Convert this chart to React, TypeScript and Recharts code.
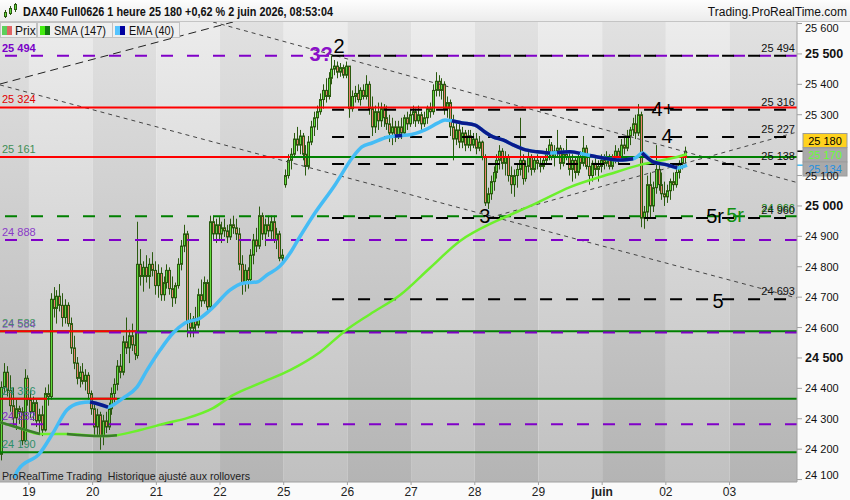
import React from 'react'
import { ComposedChart, Bar, Line, XAxis, YAxis, ReferenceLine, ReferenceArea, ReferenceDot } from 'recharts'

// DAX40 hourly bars, one [open, high, low, close] row per hour, grouped by session
const SESSION_18 = [
  [24183, 24423, 24163, 24403], [24403, 24483, 24383, 24453], [24453, 24473, 24373, 24393], [24393, 24443, 24323, 24343],
  [24343, 24403, 24283, 24303], [24303, 24363, 24263, 24333], [24333, 24343, 24283, 24323], [24323, 24338, 24213, 24228],
  [24228, 24463, 24223, 24433], [24433, 24443, 24343, 24363],
]
const SESSION_19 = [
  [24363, 24393, 24303, 24323], [24323, 24373, 24293, 24353], [24353, 24363, 24273, 24293], [24293, 24333, 24253, 24313],
  [24313, 24343, 24243, 24263], [24263, 24403, 24258, 24383], [24383, 24413, 24343, 24373], [24373, 24713, 24363, 24693],
  [24693, 24733, 24633, 24663], [24663, 24723, 24613, 24703], [24703, 24743, 24653, 24673], [24673, 24713, 24603, 24633],
  [24633, 24693, 24613, 24673], [24673, 24683, 24603, 24613], [24613, 24633, 24513, 24533], [24533, 24573, 24463, 24483],
  [24483, 24503, 24413, 24433], [24433, 24473, 24403, 24453], [24453, 24483, 24413, 24423], [24423, 24463, 24393, 24443],
  [24443, 24453, 24363, 24383], [24383, 24393, 24313, 24333],
]
const SESSION_20 = [
  [24333, 24353, 24243, 24273], [24273, 24333, 24243, 24313], [24313, 24323, 24198, 24243], [24243, 24313, 24213, 24293],
  [24293, 24323, 24253, 24273], [24273, 24353, 24263, 24333], [24333, 24403, 24313, 24383], [24383, 24433, 24353, 24413],
  [24413, 24493, 24393, 24473], [24473, 24513, 24433, 24453], [24453, 24573, 24443, 24553], [24553, 24633, 24513, 24533],
  [24533, 24593, 24483, 24573], [24573, 24613, 24523, 24543], [24543, 24583, 24493, 24513], [24508, 24948, 24498, 24808],
  [24808, 24858, 24738, 24768], [24768, 24818, 24718, 24798], [24798, 24838, 24748, 24768], [24768, 24828, 24728, 24808],
  [24808, 24848, 24768, 24788], [24788, 24818, 24708, 24738],
]
const SESSION_21 = [
  [24738, 24808, 24698, 24778], [24778, 24798, 24688, 24708], [24708, 24768, 24688, 24748], [24748, 24808, 24728, 24788],
  [24788, 24798, 24708, 24728], [24728, 24768, 24668, 24698], [24698, 24748, 24678, 24738], [24738, 24828, 24728, 24808],
  [24808, 24888, 24788, 24868], [24868, 24938, 24848, 24908], [24908, 24918, 24568, 24618], [24618, 24648, 24568, 24598],
  [24598, 24638, 24568, 24628], [24628, 24668, 24588, 24608], [24608, 24728, 24598, 24708], [24708, 24758, 24668, 24688],
  [24688, 24768, 24678, 24748], [24748, 24758, 24648, 24668], [24668, 24968, 24658, 24948], [24948, 24968, 24888, 24908],
  [24908, 24958, 24878, 24938], [24938, 24963, 24888, 24908],
]
const SESSION_22 = [
  [24908, 24948, 24878, 24928], [24928, 24958, 24898, 24918], [24918, 24938, 24878, 24898], [24898, 24958, 24888, 24938],
  [24938, 24968, 24908, 24928], [24928, 24958, 24888, 24908], [24908, 24928, 24788, 24808], [24808, 24838, 24708, 24748],
  [24748, 24808, 24718, 24788], [24788, 24798, 24728, 24758], [24758, 24858, 24748, 24838], [24838, 24908, 24808, 24888],
  [24888, 24928, 24848, 24868], [24868, 24998, 24858, 24968], [24968, 24978, 24888, 24908], [24908, 24958, 24868, 24938],
  [24938, 24968, 24898, 24918], [24918, 24968, 24888, 24948], [24948, 24968, 24878, 24888], [24888, 24928, 24858, 24908],
  [24908, 24918, 24818, 24828], [24828, 24858, 24808, 24838],
]
const SESSION_25 = [
  [25070, 25120, 25060, 25100], [25100, 25170, 25090, 25150], [25150, 25190, 25120, 25170], [25170, 25240, 25160, 25220],
  [25220, 25260, 25180, 25200], [25200, 25250, 25170, 25230], [25230, 25240, 25150, 25170], [25170, 25200, 25100, 25130],
  [25130, 25230, 25120, 25210], [25210, 25280, 25200, 25260], [25260, 25310, 25230, 25290], [25290, 25330, 25250, 25310],
  [25310, 25370, 25300, 25350], [25350, 25400, 25320, 25380], [25380, 25420, 25340, 25360], [25360, 25440, 25350, 25420],
  [25420, 25495, 25400, 25450], [25450, 25480, 25430, 25460], [25460, 25475, 25420, 25440], [25440, 25470, 25425, 25455],
  [25455, 25465, 25420, 25430], [25430, 25475, 25420, 25460],
]
const SESSION_26 = [
  [25460, 25460, 25290, 25320], [25320, 25380, 25310, 25360], [25360, 25395, 25340, 25370], [25370, 25400, 25340, 25350],
  [25350, 25390, 25330, 25380], [25380, 25400, 25350, 25360], [25360, 25430, 25350, 25400], [25400, 25410, 25300, 25320],
  [25320, 25360, 25230, 25260], [25260, 25330, 25240, 25310], [25310, 25340, 25250, 25280], [25280, 25340, 25260, 25320],
  [25320, 25335, 25260, 25290], [25290, 25330, 25250, 25270], [25270, 25300, 25210, 25240], [25240, 25290, 25200, 25260],
  [25260, 25280, 25210, 25230], [25230, 25280, 25220, 25260], [25260, 25290, 25220, 25240], [25240, 25300, 25230, 25290],
  [25290, 25310, 25250, 25270], [25270, 25320, 25260, 25300],
]
const SESSION_27 = [
  [25300, 25330, 25270, 25310], [25310, 25320, 25260, 25280], [25280, 25330, 25270, 25300], [25300, 25310, 25250, 25270],
  [25270, 25310, 25260, 25290], [25290, 25330, 25270, 25320], [25320, 25340, 25290, 25310], [25310, 25400, 25300, 25380],
  [25380, 25440, 25360, 25410], [25410, 25430, 25360, 25380], [25380, 25420, 25350, 25400], [25400, 25410, 25300, 25320],
  [25320, 25360, 25290, 25340], [25340, 25350, 25230, 25260], [25260, 25300, 25150, 25220], [25220, 25280, 25200, 25250],
  [25250, 25270, 25190, 25210], [25210, 25260, 25190, 25240], [25240, 25250, 25180, 25200], [25200, 25250, 25190, 25230],
  [25230, 25250, 25180, 25200], [25200, 25240, 25190, 25220],
]
const SESSION_28 = [
  [25220, 25240, 25170, 25190], [25190, 25230, 25180, 25210], [25210, 25215, 25150, 25160], [25160, 25170, 25000, 25010],
  [25010, 25060, 24990, 25040], [25040, 25100, 25020, 25080], [25080, 25130, 25050, 25110], [25110, 25170, 25090, 25150],
  [25150, 25200, 25120, 25180], [25180, 25190, 25120, 25140], [25140, 25180, 25100, 25160], [25160, 25170, 25080, 25100],
  [25100, 25130, 25040, 25070], [25070, 25120, 25030, 25100], [25100, 25140, 25060, 25120], [25120, 25290, 25100, 25150],
  [25150, 25170, 25070, 25090], [25090, 25150, 25080, 25130], [25130, 25180, 25110, 25160], [25160, 25170, 25100, 25120],
  [25120, 25160, 25110, 25150], [25150, 25170, 25120, 25140],
]
const SESSION_29 = [
  [25140, 25160, 25110, 25130], [25130, 25160, 25120, 25150], [25150, 25190, 25140, 25170], [25170, 25220, 25150, 25200],
  [25200, 25210, 25150, 25160], [25160, 25200, 25130, 25180], [25180, 25250, 25160, 25190], [25190, 25200, 25120, 25140],
  [25140, 25190, 25130, 25170], [25170, 25220, 25150, 25160], [25160, 25180, 25100, 25120], [25120, 25170, 25080, 25150],
  [25150, 25160, 25090, 25110], [25110, 25170, 25100, 25160], [25160, 25180, 25120, 25140], [25140, 25230, 25130, 25190],
  [25190, 25200, 25120, 25130], [25130, 25160, 25070, 25100], [25100, 25150, 25080, 25140], [25140, 25160, 25100, 25120],
  [25120, 25150, 25080, 25130], [25130, 25170, 25110, 25150],
]
const SESSION_01 = [
  [25150, 25170, 25120, 25140], [25140, 25180, 25130, 25160], [25160, 25170, 25120, 25130], [25130, 25170, 25120, 25160],
  [25160, 25200, 25140, 25180], [25180, 25190, 25140, 25160], [25160, 25220, 25150, 25200], [25200, 25230, 25170, 25190],
  [25190, 25250, 25180, 25230], [25230, 25260, 25200, 25250], [25250, 25290, 25230, 25270], [25270, 25300, 25220, 25240],
  [25240, 25335, 25230, 25300], [25300, 25310, 24930, 24960], [24960, 25000, 24925, 24980], [24980, 25100, 24950, 25070],
  [25070, 25110, 24960, 25000], [25000, 25080, 24980, 25060], [25060, 25200, 25040, 25120], [25120, 25140, 25050, 25070],
  [25070, 25110, 25020, 25040], [25040, 25080, 25000, 25030],
]
const SESSION_02 = [
  [25030, 25070, 25010, 25050], [25050, 25090, 25020, 25080], [25080, 25110, 25050, 25070], [25070, 25130, 25060, 25110],
  [25110, 25150, 25090, 25140], [25140, 25170, 25120, 25160], [25160, 25195, 25140, 25180],
]
const SESSIONS = [SESSION_18, SESSION_19, SESSION_20, SESSION_21, SESSION_22, SESSION_25, SESSION_26, SESSION_27, SESSION_28, SESSION_29, SESSION_01, SESSION_02]

// x axis runs in hourly slots; each session starts on a day tick
const DAY_TICKS = [10, 32, 54, 76, 98, 120, 142, 164, 186, 208, 230, 252]
const DAY_LABELS = ['19', '20', '21', '22', '25', '26', '27', '28', '29', 'juin', '02', '03']
const BAND_EDGES = [0, 10, 32, 54, 76, 98, 120, 142, 164, 186, 208, 230, 252, 275.3]
const X_MAX = 275.3
const Y_MIN = 24092
const Y_MAX = 25605
const PRICE_TICKS = [25600, 25500, 25400, 25300, 25100, 25000, 24900, 24800, 24700, 24600, 24500, 24400, 24300, 24200, 24100]

// indicator readings [slot, price]
const SMA_147 = [
  [0, 24289], [6.9, 24269], [13.8, 24250], [23.1, 24250], [34.5, 24243], [40.4, 24246], [48.4, 24263], [57.7, 24286],
  [64.6, 24302], [73.6, 24335], [80.5, 24378], [89.8, 24417], [100.2, 24460], [110.5, 24519], [119.2, 24589], [127.8, 24644],
  [138.2, 24707], [148.5, 24796], [158.9, 24885], [169.3, 24941], [173.7, 24960], [185.5, 25010], [196.9, 25062],
  [210.7, 25105], [221.1, 25135], [233.9, 25161], [237.3, 25170],
]
const SMA_FALLING = [[0, 13.8], [23.1, 40.4]]
const EMA_40 = [
  [4.8, 24105], [6.2, 24131], [13.8, 24187], [18.3, 24253], [23.1, 24329], [27.6, 24352], [31.1, 24355], [34.5, 24347],
  [37.3, 24338], [39.0, 24345], [42.5, 24368], [47.3, 24404], [50.8, 24460], [55.3, 24526], [59.8, 24582], [63.9, 24615],
  [69.1, 24631], [73.6, 24667], [79.4, 24723], [83.9, 24746], [88.8, 24750], [92.2, 24773], [96.7, 24802], [100.2, 24845],
  [102.9, 24888], [108.1, 24967], [115.7, 25069], [121.9, 25161], [125.0, 25194], [128.5, 25207], [134.0, 25227],
  [136.4, 25230], [138.9, 25232], [140.9, 25233], [146.8, 25250], [151.3, 25273], [153.7, 25283], [156.1, 25280],
  [159.6, 25273], [164.1, 25266], [167.5, 25243], [170.3, 25227], [173.7, 25217], [177.2, 25201], [180.7, 25187],
  [185.5, 25178], [190.0, 25174], [192.4, 25175], [196.9, 25178], [200.3, 25173], [202.8, 25168], [203.8, 25166],
  [208.3, 25158], [214.2, 25151], [218.7, 25155], [220.0, 25161], [221.8, 25174], [225.6, 25145], [230.4, 25135],
  [233.9, 25125], [237.3, 25134],
]
const EMA_FALLING = [[31.1, 37.3], [136.4, 138.9], [156.1, 190.0], [192.4, 200.3], [203.8, 218.7], [221.8, 233.9]]

// support / resistance levels
const PURPLE_LEVELS = [25494, 24888, 24584, 24282]
const GREEN_LEVELS = [25161, 24588, 24366, 24190]
const RED_LEVEL = 25324
const GREEN_DASH_LEVEL = 24966
const BLACK_DASH_LEVELS = [25494, 25316, 25227, 25138, 24960, 24693]
const LAST_PRICE = 25180
const LAST_SMA = 25170
const LAST_EMA = 25134

const FONT = '"Liberation Sans", Arial, sans-serif'
const OUTLINE = '#2b5a10'
const UP_FILL = '#62dc3e'
const DOWN_FILL = '#ec8270'

const bars = SESSIONS.flat().map(([o, h, l, c], i) => ({ x: i + 0.5, o, h, l, c, range: [l, h] }))
const toPts = (rows: number[][]) => rows.map(([x, v]) => ({ x, v }))
const pick = (rows: number[][], a: number, b: number) => toPts(rows.filter(([x]) => x >= a && x <= b))
const fmt = (v: number) => String(v).replace(/(\d{2})(\d{3})$/, '$1 $2')

function Candle(props: any) {
  const { x, y, width, height, payload } = props
  if (!payload) return null
  const { o, h, l, c } = payload
  const top = Math.min(y, y + height)
  const span = Math.abs(height)
  const k = h > l ? span / (h - l) : 0
  const bodyTop = top + (h - Math.max(o, c)) * k
  const bodyBot = top + (h - Math.min(o, c)) * k
  const px = Math.round(x + width / 2)
  return (
    <g>
      <line x1={px + 0.5} x2={px + 0.5} y1={top} y2={top + span} stroke={OUTLINE} />
      <rect x={px - 0.5} y={bodyTop} width={2} height={Math.max(bodyBot - bodyTop, 1)} fill={c >= o ? UP_FILL : DOWN_FILL} stroke={OUTLINE} />
    </g>
  )
}

const DayTick = (p: any) => {
  const idx = DAY_TICKS.indexOf(p.payload.value)
  const label = DAY_LABELS[idx] ?? ''
  return (
    <text x={p.x} y={p.y + 9} textAnchor="middle" fontSize={12} fontFamily={FONT} fill="#222" fontWeight={label === 'juin' ? 'bold' : 'normal'}>
      {label}
    </text>
  )
}

const PriceTick = (p: any) => {
  const v = p.payload.value
  const bold = v % 500 === 0 && v % 1000 !== 100
  const dy = v === 25600 ? 8 : v === 24100 ? -0.5 : 4
  return (
    <text x={p.x + 1} y={p.y + dy} fontSize={bold ? 12.5 : 11} fontWeight={bold ? 'bold' : 'normal'} fontFamily={FONT} fill="#111">
      {fmt(v)}
    </text>
  )
}

const sideLabel = (text: string, color: string, side: 'left' | 'right', bold = false) => (p: any) => {
  const vb = p.viewBox || {}
  const x = side === 'left' ? 2 : (vb.x ?? 0) + (vb.width ?? 0) - 2
  return (
    <text x={x} y={(vb.y ?? 0) - 4} textAnchor={side === 'left' ? 'start' : 'end'} fontSize={11} fontFamily={FONT} fill={color} fontWeight={bold ? 'bold' : 'normal'}>
      {text}
    </text>
  )
}

const priceBox = (text: string, bg: string, fg: string, dy: number, mark?: string) => (p: any) => {
  const vb = p.viewBox || {}
  const x = (vb.x ?? 0) + (vb.width ?? 0)
  const ly = vb.y ?? 0
  const cy = ly + dy
  return (
    <g>
      {mark && <line x1={x} x2={x + 6} y1={ly} y2={ly} stroke={mark} strokeWidth={1.5} />}
      <rect x={x + 6} y={cy - 7} width={44} height={14} fill={bg} stroke="#9c9c9c" />
      <text x={x + 28} y={cy + 4} textAnchor="middle" fontSize={11} fontFamily={FONT} fill={fg}>{text}</text>
    </g>
  )
}

const markText = (text: string, color: string, size = 20, bold = false) => (p: any) => (
  <text x={p.cx} y={p.cy} textAnchor="middle" fontSize={size} fontFamily={FONT} fill={color} fontWeight={bold ? 'bold' : 'normal'}>
    {text}
  </text>
)

const seg = (a: number, b: number, v: number) => [{ x: a, y: v }, { x: b, y: v }] as any

export default function App() {
  const dash = '12 14'
  return (
    <div style={{ position: 'absolute', left: 0, top: 0, width: 850, height: 500, background: '#fafafa', fontFamily: FONT }}>
      <ComposedChart width={850} height={500} data={bars} margin={{ top: 22, right: 0, bottom: 0, left: 0 }}>
        <defs>
          <linearGradient id="bandLight" x1="0" y1="0" x2="0" y2="1">
            <stop offset="0" stopColor="#ececec" />
            <stop offset="1" stopColor="#c0c0c0" />
          </linearGradient>
          <linearGradient id="bandDark" x1="0" y1="0" x2="0" y2="1">
            <stop offset="0" stopColor="#e1e1e1" />
            <stop offset="1" stopColor="#b4b4b4" />
          </linearGradient>
        </defs>
        <XAxis type="number" dataKey="x" domain={[0, X_MAX]} allowDataOverflow ticks={DAY_TICKS} interval={0} height={18}
          tickSize={3} tickMargin={2} tick={DayTick} stroke="#a0a0a0" />
        <YAxis orientation="right" type="number" domain={[Y_MIN, Y_MAX]} allowDataOverflow ticks={PRICE_TICKS} interval={0}
          width={53} tickSize={5} tickMargin={2} tick={PriceTick} stroke="#a0a0a0" />

        {BAND_EDGES.slice(0, -1).map((a, k) => (
          <ReferenceArea key={'b' + k} x1={a} x2={BAND_EDGES[k + 1]} fill={k % 2 === 0 ? 'url(#bandDark)' : 'url(#bandLight)'} fillOpacity={1} stroke="none" />
        ))}

        {/* trend lines */}
        <ReferenceLine segment={[{ x: 0, y: 25401 }, { x: 80.5, y: 25605 }]} stroke="#222" strokeDasharray="8 5" />
        <ReferenceLine segment={[{ x: 73.6, y: 25605 }, { x: 275.3, y: 25077 }]} stroke="#444" strokeDasharray="4 4" />
        <ReferenceLine segment={[{ x: 0, y: 25398 }, { x: 275.3, y: 24697 }]} stroke="#444" strokeDasharray="4 4" />
        <ReferenceLine segment={[{ x: 169.3, y: 24962 }, { x: 275.3, y: 25243 }]} stroke="#444" strokeDasharray="4 4" />

        {/* green solid levels */}
        <ReferenceLine y={GREEN_LEVELS[0]} stroke="#008000" strokeWidth={2} label={sideLabel(fmt(25161), '#3f8f55', 'left')} />
        <ReferenceLine y={GREEN_LEVELS[1]} stroke="#008000" strokeWidth={2} label={sideLabel(fmt(24588), 'rgba(40,140,70,0.85)', 'left')} />
        <ReferenceLine y={GREEN_LEVELS[2]} stroke="#008000" strokeWidth={2} label={sideLabel(fmt(24366), '#2f8f6a', 'left')} />
        <ReferenceLine y={GREEN_LEVELS[3]} stroke="#008000" strokeWidth={2} label={sideLabel(fmt(24190), '#2f8f6a', 'left')} />

        {/* red levels and red overlays */}
        <ReferenceLine y={RED_LEVEL} stroke="#ff0000" strokeWidth={2} label={sideLabel(fmt(RED_LEVEL), '#e00000', 'left')} />
        <ReferenceLine segment={seg(0, 100.2, GREEN_LEVELS[0])} stroke="#ff0000" strokeWidth={2} />
        <ReferenceLine segment={seg(166.8, 189.3, GREEN_LEVELS[0])} stroke="#ff0000" strokeWidth={2} />
        <ReferenceLine segment={seg(211.4, 214.5, GREEN_LEVELS[0])} stroke="#ff0000" strokeWidth={2} />
        <ReferenceLine segment={seg(223.5, 237.3, GREEN_LEVELS[0])} stroke="#ff0000" strokeWidth={2} />
        <ReferenceLine segment={seg(0, 47.3, GREEN_LEVELS[1])} stroke="#ff0000" strokeWidth={2} />
        <ReferenceLine segment={seg(0, 16.2, GREEN_LEVELS[2])} stroke="#ff0000" strokeWidth={2} />
        <ReferenceLine segment={seg(31.1, 40.4, GREEN_LEVELS[2])} stroke="#ff0000" strokeWidth={2} />

        {/* purple dashed levels */}
        <ReferenceLine y={PURPLE_LEVELS[0]} stroke="#8000c8" strokeWidth={2} strokeDasharray={dash} label={sideLabel(fmt(25494), '#7a00c8', 'left', true)} />
        <ReferenceLine y={PURPLE_LEVELS[1]} stroke="#8000c8" strokeWidth={2} strokeDasharray={dash} label={sideLabel(fmt(24888), '#8a3ac8', 'left')} />
        <ReferenceLine y={PURPLE_LEVELS[2]} stroke="#8000c8" strokeWidth={2} strokeDasharray={dash} label={sideLabel(fmt(24584), 'rgba(128,40,200,0.6)', 'left')} />
        <ReferenceLine y={PURPLE_LEVELS[3]} stroke="#8000c8" strokeWidth={2} strokeDasharray={dash} label={sideLabel(fmt(24282), '#7a2ec0', 'left')} />

        {/* green dashed level */}
        <ReferenceLine y={GREEN_DASH_LEVEL} stroke="#008000" strokeWidth={2} strokeDasharray={dash} label={sideLabel(fmt(GREEN_DASH_LEVEL), '#208a20', 'right')} />

        {/* black dashed levels from the top onward */}
        {BLACK_DASH_LEVELS.map((v) => (
          <ReferenceLine key={'k' + v} segment={seg(114.7, X_MAX, v)} stroke="#000" strokeWidth={2} strokeDasharray="12 14" label={sideLabel(fmt(v), '#111', 'right')} />
        ))}

        <Bar dataKey="range" barSize={3} shape={Candle} isAnimationActive={false} />

        <Line data={toPts(SMA_147)} dataKey="v" type="monotone" stroke="#6cf02c" strokeWidth={2.5} dot={false} isAnimationActive={false} />
        {SMA_FALLING.map(([a, b], k) => (
          <Line key={'sf' + k} data={pick(SMA_147, a, b)} dataKey="v" type="monotone" stroke="#3a7d2a" strokeWidth={2.5} dot={false} isAnimationActive={false} />
        ))}
        <Line data={toPts(EMA_40)} dataKey="v" type="monotone" stroke="#45bcf5" strokeWidth={3.5} dot={false} isAnimationActive={false} />
        {EMA_FALLING.map(([a, b], k) => (
          <Line key={'ef' + k} data={pick(EMA_40, a, b)} dataKey="v" type="monotone" stroke="#0a1a8c" strokeWidth={3.5} dot={false} isAnimationActive={false} />
        ))}

        {/* wave marks */}
        <ReferenceDot x={110.9} y={25477} r={0} shape={markText('3?', '#8a10c8', 20, true)} />
        <ReferenceDot x={117.1} y={25503} r={0} shape={markText('2', '#000')} />
        <ReferenceDot x={229.0} y={25296} r={0} shape={markText('4+', '#000')} />
        <ReferenceDot x={230.4} y={25207} r={0} shape={markText('4', '#000')} />
        <ReferenceDot x={167.5} y={24944} r={0} shape={markText('3', '#000')} />
        <ReferenceDot x={247.0} y={24944} r={0} shape={markText('5r', '#000')} />
        <ReferenceDot x={253.9} y={24947} r={0} shape={markText('5r', '#109010')} />
        <ReferenceDot x={248.0} y={24664} r={0} shape={markText('5', '#000')} />

        {/* last values on the price scale */}
        <ReferenceLine y={LAST_PRICE} stroke="none" label={priceBox(fmt(LAST_PRICE), '#ffd21e', '#000', -10.7, '#000')} />
        <ReferenceLine y={LAST_SMA} stroke="none" label={priceBox(fmt(LAST_SMA), '#a9a9a9', '#66ff33', 0.7)} />
        <ReferenceLine y={LAST_EMA} stroke="none" label={priceBox(fmt(LAST_EMA), '#a9a9a9', '#1e8fe0', 3.8, '#45bcf5')} />
      </ComposedChart>

      <svg width={850} height={500} style={{ position: 'absolute', left: 0, top: 0, pointerEvents: 'none' }} fontFamily={FONT}>
        <defs>
          <linearGradient id="hdr" x1="0" y1="0" x2="0" y2="1">
            <stop offset="0" stopColor="#fdfdfd" />
            <stop offset="1" stopColor="#ececec" />
          </linearGradient>
        </defs>
        <rect x={0} y={0} width={850} height={21} fill="url(#hdr)" />
        <line x1={0} x2={850} y1={21.5} y2={21.5} stroke="#c4c4c4" />
        <g stroke={OUTLINE}>
          <line x1={5.5} x2={5.5} y1={10} y2={18} />
          <rect x={4.5} y={12.5} width={2} height={4} fill={UP_FILL} />
          <line x1={10.5} x2={10.5} y1={6} y2={15} />
          <rect x={9.5} y={8.5} width={2} height={5} fill={UP_FILL} />
          <line x1={15.5} x2={15.5} y1={3} y2={12} />
          <rect x={14.5} y={4.5} width={2} height={5} fill={UP_FILL} />
        </g>
        <text x={23} y={16} fontSize={12} fontWeight="bold" fill="#111" textLength={310} lengthAdjust="spacingAndGlyphs">
          DAX40 Full0626 1 heure 25 180 +0,62 % 2 juin 2026, 08:53:04
        </text>
        <text x={847} y={16} fontSize={12} fill="#111" textAnchor="end">Trading.ProRealTime.com</text>

        <g>
          <rect x={0.5} y={22.5} width={36} height={15} fill="#efefef" stroke="#c2c2c2" />
          <rect x={2} y={26} width={5} height={9} fill="#5ccf5c" />
          <rect x={7} y={26} width={5} height={9} fill="#e06464" />
          <text x={15} y={34.5} fontSize={12} fill="#111">Prix</text>

          <rect x={37.5} y={22.5} width={75} height={15} fill="#efefef" stroke="#c2c2c2" />
          <rect x={40} y={26} width={5} height={9} fill="#44ee11" />
          <rect x={45} y={26} width={5} height={9} fill="#117a11" />
          <text x={54} y={34.5} fontSize={12} fill="#111" textLength={52} lengthAdjust="spacingAndGlyphs">SMA (147)</text>

          <rect x={112.5} y={22.5} width={67} height={15} fill="#efefef" stroke="#c2c2c2" />
          <rect x={115} y={26} width={5} height={9} fill="#55c4ff" />
          <rect x={120} y={26} width={5} height={9} fill="#0000a0" />
          <text x={129} y={34.5} fontSize={12} fill="#111" textLength={45} lengthAdjust="spacingAndGlyphs">EMA (40)</text>
        </g>

        <text x={2} y={480} fontSize={11} fill="#222" style={{ whiteSpace: 'pre' }} textLength={248} lengthAdjust="spacingAndGlyphs">
          ProRealTime Trading  Historique ajusté aux rollovers
        </text>
      </svg>
    </div>
  )
}
